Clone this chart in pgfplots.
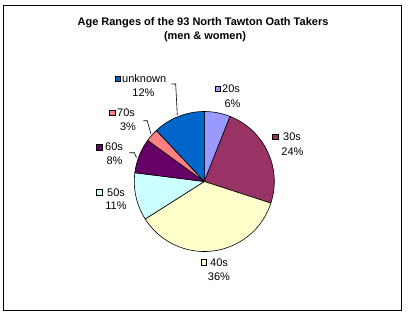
\documentclass[border=0pt]{standalone}
\usepackage{pgfplots}
\usepackage{pgfplotstable}
\pgfplotsset{compat=1.18}
\usepackage{fontspec}
\setmainfont{Liberation Sans}
\definecolor{c20}{HTML}{9999FF}
\definecolor{c30}{HTML}{993366}
\definecolor{c40}{HTML}{FFFFCC}
\definecolor{c50}{HTML}{CCFFFF}
\definecolor{c60}{HTML}{660066}
\definecolor{c70}{HTML}{FF8080}
\definecolor{cunk}{HTML}{0066CC}
\pgfplotstableread{
label pct color
20s 6 c20
30s 24 c30
40s 36 c40
50s 11 c50
60s 8 c60
70s 3 c70
unknown 12 cunk
}\piedata
\begin{document}
\begin{tikzpicture}
\begin{axis}[
  scale only axis, width=408pt, height=314pt,
  xmin=0, xmax=408, ymin=0, ymax=314, y dir=reverse,
  hide axis, clip=false,
]
% frame
\draw[line width=1pt] (axis cs:3.5,5.5) rectangle (axis cs:401.5,310.5);
% title
\node[anchor=base, font=\fontsize{11}{13}\selectfont\bfseries] at (axis cs:203,25) {Age Ranges of the 93 North Tawton Oath Takers};
\node[anchor=base, font=\fontsize{11}{13}\selectfont\bfseries] at (axis cs:205,39) {(men \& women)};
% pie wedges from the table
\def\cum{90}
\pgfplotsforeachungrouped \i in {0,...,6}{%
  \pgfplotstablegetelem{\i}{pct}\of\piedata \let\p\pgfplotsretval
  \pgfplotstablegetelem{\i}{color}\of\piedata \let\cc\pgfplotsretval
  \pgfmathsetmacro{\endang}{\cum - 3.6*\p}%
  \edef\temp{\noexpand\filldraw[fill=\cc, draw=black, line width=0.6pt, line join=round] (axis cs:204.3,181.5) -- ++(\cum:70pt) arc[start angle=\cum, end angle=\endang, radius=70pt] -- cycle;}%
  \temp
  \global\let\cum\endang
}
% leader lines
\draw[line width=0.6pt] (axis cs:171.7,84) -- (axis cs:175.7,84) -- (axis cs:177.3,115);
\draw[line width=0.6pt] (axis cs:143.3,120.7) -- (axis cs:147.3,120.7) -- (axis cs:151,134.3);
\draw[line width=0.6pt] (axis cs:129.3,152.7) -- (axis cs:134.3,152.7) -- (axis cs:136.5,157.5);
% label squares
\draw[fill=cunk, line width=0.5pt] (axis cs:115.3,76) rectangle (axis cs:120.7,81.3);
\draw[fill=c70, line width=0.5pt] (axis cs:109.3,110) rectangle (axis cs:115,115.7);
\draw[fill=c60, line width=0.5pt] (axis cs:96.7,144) rectangle (axis cs:102.3,150);
\draw[fill=c20, line width=0.5pt] (axis cs:215,86) rectangle (axis cs:220.5,91.7);
\draw[fill=c30, line width=0.5pt] (axis cs:272.7,134) rectangle (axis cs:278.5,139.5);
\draw[fill=c50, line width=0.5pt] (axis cs:96.7,189.3) rectangle (axis cs:102.3,195);
\draw[fill=c40, line width=0.5pt] (axis cs:201,259.3) rectangle (axis cs:206.7,265);
% labels
\begin{scope}[every node/.style={font=\fontsize{11}{13}\selectfont, inner sep=0pt}]
\node[anchor=base west] at (axis cs:122,82) {unknown};
\node[anchor=base] at (axis cs:143.5,96.5) {12\%};
\node[anchor=base west] at (axis cs:117,116.5) {70s};
\node[anchor=base] at (axis cs:128,130.5) {3\%};
\node[anchor=base west] at (axis cs:105,150.5) {60s};
\node[anchor=base] at (axis cs:114.5,164) {8\%};
\node[anchor=base west] at (axis cs:222,92.3) {20s};
\node[anchor=base] at (axis cs:232.5,107.3) {6\%};
\node[anchor=base west] at (axis cs:283,140.5) {30s};
\node[anchor=base] at (axis cs:292.5,155) {24\%};
\node[anchor=base west] at (axis cs:107,196) {50s};
\node[anchor=base] at (axis cs:116,209.7) {11\%};
\node[anchor=base west] at (axis cs:210,266) {40s};
\node[anchor=base] at (axis cs:219,280) {36\%};
\end{scope}
\end{axis}
\useasboundingbox (0,0) rectangle (408pt,314pt);
\end{tikzpicture}
\end{document}
